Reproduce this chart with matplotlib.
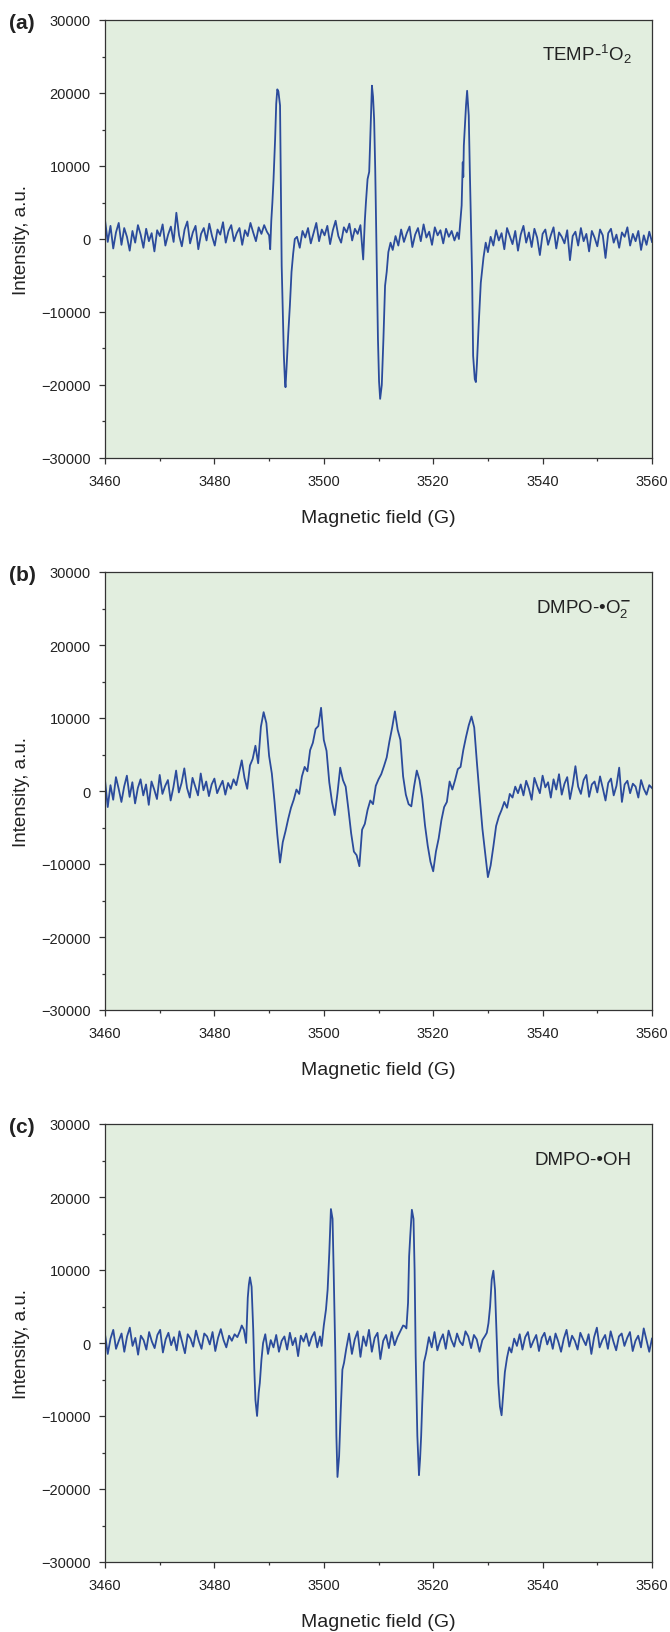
import numpy as np
import matplotlib.pyplot as plt
from matplotlib.ticker import MultipleLocator

plt.rcParams['font.family'] = ['Liberation Sans', 'DejaVu Sans']
plt.rcParams['mathtext.fontset'] = 'custom'
plt.rcParams['mathtext.rm'] = 'Liberation Sans'
plt.rcParams['mathtext.it'] = 'Liberation Sans:italic'

# ---------------- (a) TEMP-1O2 ----------------
a_left = [2600, -400, 1800, -1300, 900, 2200, -800, 1500, 300, -1600,
          1100, -500, 1900, 600, -1200, 1400, -300, 800, -1700, 1200,
          400, 2000, -900, 600, 1700, -400, 3600, 500, -1000, 1300,
          2400, -600, 900, 1800, -1400, 700, 1500, -200, 2100, 400,
          -900, 1300, 600, 2300, -500, 1100, 1900, -300, 800, 1500,
          -800, 1200, 400, 2200, 900, -300, 1600, 700, 1900, 1000]
a_peak1_x = [3490.0, 3490.2, 3490.4, 3490.6, 3490.8, 3491.1, 3491.3, 3491.5, 3491.7, 3492.0, 3492.15,
             3492.3, 3492.5, 3492.7, 3492.9, 3493.0, 3493.2, 3493.5, 3493.8, 3494.1, 3494.4, 3494.7]
a_peak1_y = [500, -1400, 2500, 5000, 8000, 13700, 18500, 20500, 20200, 18300, 8000,
             -3650, -10000, -16000, -19500, -20300, -17500, -13000, -9100, -4500, -2000, 0]
a_mid1 = [300, -1200, 1100, 200, 1500, -600, 800, 2200, -300, 1300,
          500, 1800, -700, 1200, 2500, 400, -500, 1600, 900, 2100,
          -200, 1400, 700, 1900, -2800]
a_peak2_x = [3507.5, 3507.7, 3508.0, 3508.3, 3508.6, 3508.8, 3509.0, 3509.2, 3509.4, 3509.7,
             3509.9, 3510.1, 3510.3, 3510.6, 3510.9, 3511.2, 3511.5, 3511.8, 3512.2]
a_peak2_y = [2500, 5000, 8200, 9200, 16400, 21000, 19500, 16400, 9600, -4600,
             -13700, -19500, -21900, -20000, -13700, -6400, -4500, -1800, -500]
a_mid2 = [-1500, 400, -900, 1300, -400, 800, 1700, -1100, 600, 1500,
          -300, 2000, 200, 1000, -800, 1600, 500, 1200, -600, 1400,
          300, 1100, -200, 900]
a_peak3_x = [3524.7, 3524.9, 3525.2, 3525.4, 3525.5, 3525.6, 3525.8, 3526.0, 3526.2, 3526.5,
             3526.7, 3527.1, 3527.3, 3527.6, 3527.8, 3528.0, 3528.3, 3528.7, 3529.2, 3529.6]
a_peak3_y = [0, 1800, 4600, 10500, 8500, 12800, 15500, 18300, 20300, 16900,
             9200, -4600, -16000, -19200, -19600, -17000, -12000, -6000, -2500, -500]
a_right = [-1800, 300, -900, 1200, -200, 800, -1400, 1500, 400, -700,
           1100, -1600, 600, 1800, -500, 900, -1100, 1400, 200, -2200,
           700, 1300, -800, 500, 1600, -1300, 900, 300, -600, 1200,
           -2900, 400, 1000, -900, 1500, -300, 700, -1700, 1100, 200,
           -1000, 1300, 500, -2600, 800, 1400, -500, 600, -1200, 900,
           300, 1600, -900, 700, -300, 1100, -1500, 500, -800, 1000,
           -400]

# ---------------- (b) DMPO-O2- ----------------
b_left = [1500, -2200, 800, -1200, 1900, 300, -1500, 600, 2100, -800,
          1200, -1700, 400, 1600, -600, 900, -1900, 1300, 200, -1100,
          2200, -400, 700, 1500, -1300, 500, 2800, -200, 1100, 3100,
          400, -900, 1800, 600, -600, 2400, 100, 1300, -700, 900,
          1700, -300, 600, 1400, -500, 1100, 300, 1600]
b_signal = [800, 2500, 4200, 1800, 300, 3500, 4400, 6200, 3800, 8800,
            10800, 9300, 4800, 2400, -1500, -6000, -9800, -7000, -5500, -3800,
            -2300, -1200, 200, -400, 2000, 3300, 2700, 5600, 6600, 8500,
            8900, 11400, 7000, 5500, 1200, -1500, -3300, -300, 3200, 1500,
            600, -2500, -5800, -8300, -8800, -10300, -5300, -4500, -2600, -1300,
            -1800, 700, 1600, 2300, 3400, 4600, 6800, 8700, 10900, 8400,
            7000, 2000, -500, -1800, -2100, 600, 2800, 1500, -1000, -4700,
            -7500, -9700, -11000, -8300, -6500, -4000, -2200, -1500, 1300, 200,
            1500, 3000, 3300, 5600, 7400, 9000, 10200, 8700, 3800, -800,
            -5200, -8500, -11800, -10200, -7600, -4800, -3500, -2600, -1500, -2300,
            -400, -900, 600, -300, 900]
b_right = [-600, 1400, 300, -1200, 1800, 700, -300, 2100, 500, 1200,
           -900, 1600, 200, 2300, -500, 1000, 1900, -1100, 800, 3400,
           600, -400, 1500, 2200, -800, 900, 1300, -200, 2000, 400,
           -1300, 1100, 1700, -600, 700, 3200, -1500, 900, 1400, -300,
           1000, 600, -900, 1500, 300, -500, 800, 400]

# ---------------- (c) DMPO-OH ----------------
c_left = [1200, -1500, 600, 1800, -800, 300, 1300, -1200, 900, 2100,
          -400, 700, -1600, 1000, 400, -900, 1500, 200, -700, 1100,
          1800, -1300, 500, 1400, -300, 800, -1000, 1600, 100, -1400,
          1200, 600, -500, 1700, 300, -800, 1300, 900, -200, 1500,
          -1100, 700, 1900, 400, -600, 1000, 300, 1200, 800, 1700]
c_peak1_x = [3485.0, 3485.4, 3485.8, 3486.1, 3486.3, 3486.5, 3486.8, 3487.1, 3487.3, 3487.5,
             3487.8, 3488.1, 3488.3, 3488.6, 3488.9]
c_peak1_y = [2400, 1800, 0, 6200, 8000, 9000, 7700, 1800, -3650, -7800,
             -10000, -6800, -5500, -2300, 0]
c_mid1 = [1200, -1500, 400, -600, 1100, -1200, 300, 900, -900, 1400,
          -300, 700, -1800, 1000, 200, 1300, -400, 800, 1500, -600, 900]
c_peak2_x = [3499.6, 3500.0, 3500.4, 3500.7, 3501.0, 3501.3, 3501.6, 3501.8, 3502.1, 3502.3,
             3502.5, 3502.8, 3503.1, 3503.4, 3503.7]
c_peak2_y = [-400, 2400, 4600, 7300, 12300, 18350, 17000, 10000, -1400, -12700,
             -18350, -15500, -9100, -3650, -2700]
c_mid2 = [-800, 1300, -1500, 500, 1600, -1900, 900, -400, 1800, -1200,
          700, 1400, -2200, 300, 1100, -700, 1500, -300, 800, 1600, 2400]
c_peak3_x = [3514.8, 3515.1, 3515.4, 3515.6, 3515.8, 3516.1, 3516.4, 3516.6, 3516.8, 3517.1,
             3517.4, 3517.6, 3517.8, 3518.0, 3518.3]
c_peak3_y = [2300, 2000, 5500, 11900, 14600, 18250, 17000, 10000, -1800, -12700,
             -18100, -15900, -12700, -8200, -2700]
c_mid3 = [-1400, 800, -600, 1500, -1000, 300, 1200, -800, 1700, 400,
          -500, 1300, 200, -300, 1600, 900, -700, 1100, 500, -1200, 400, 1000]
c_peak4_x = [3529.8, 3530.1, 3530.4, 3530.7, 3531.0, 3531.3, 3531.6, 3531.9, 3532.2, 3532.5,
             3532.8, 3533.1, 3533.5, 3533.9]
c_peak4_y = [1400, 2700, 5000, 8700, 9900, 7300, 900, -5500, -8700, -9900,
             -7000, -4000, -2000, -600]
c_right = [-1300, 600, -400, 1200, -900, 800, 1500, -600, 300, 1100,
           -1100, 700, 1400, -200, 900, -800, 1300, 200, -1200, 600,
           1800, -500, 1000, 300, -900, 1400, 500, -300, 1200, -1500,
           800, 2100, -600, 400, 1100, -800, 1600, 200, -1000, 900,
           1300, -400, 700, 1500, -1100, 300, 1000, -600, 2000, 400,
           -1200, 600]


def baseline(start, end, vals):
    # evenly sampled stretch of spectrum between start and end (G)
    return list(np.linspace(start, end, len(vals))), list(vals)


def join(*parts):
    xs, ys = [], []
    for px, py in parts:
        xs += list(px)
        ys += list(py)
    return np.array(xs), np.array(ys)


spec_a = join(baseline(3460, 3489.6, a_left), (a_peak1_x, a_peak1_y),
              baseline(3495.1, 3507.2, a_mid1), (a_peak2_x, a_peak2_y),
              baseline(3512.6, 3524.4, a_mid2), (a_peak3_x, a_peak3_y),
              baseline(3530.0, 3560, a_right))
spec_b = join(baseline(3460, 3483.5, b_left), baseline(3484, 3536, b_signal),
              baseline(3536.5, 3560, b_right))
spec_c = join(baseline(3460, 3484.7, c_left), (c_peak1_x, c_peak1_y),
              baseline(3489.3, 3499.3, c_mid1), (c_peak2_x, c_peak2_y),
              baseline(3504.1, 3514.5, c_mid2), (c_peak3_x, c_peak3_y),
              baseline(3518.7, 3529.5, c_mid3), (c_peak4_x, c_peak4_y),
              baseline(3534.3, 3560, c_right))

spectra = [spec_a, spec_b, spec_c]
panel_tags = ['(a)', '(b)', '(c)']
species = [r'TEMP-$^{1}$O$_{2}$', r'DMPO-•O$_{2}^{\mathbf{-}}$', 'DMPO-•OH']

W, H = 670, 1633
fig = plt.figure(figsize=(W / 100, H / 100), dpi=100)
tops = [21, 573, 1125]
ax_h = 438
left, right = 105, 652

for k in range(3):
    top = tops[k]
    ax = fig.add_axes([left / W, 1 - (top + ax_h) / H, (right - left) / W, ax_h / H])
    ax.set_facecolor('#e2eedf')
    x, y = spectra[k]
    ax.plot(x, y, color='#2b4b9c', lw=1.3)
    ax.set_xlim(3460, 3560)
    ax.set_ylim(-30000, 30000)
    ax.xaxis.set_major_locator(MultipleLocator(20))
    ax.xaxis.set_minor_locator(MultipleLocator(10))
    ax.yaxis.set_major_locator(MultipleLocator(10000))
    ax.yaxis.set_minor_locator(MultipleLocator(5000))
    ax.tick_params(which='both', direction='out', color='#333333', labelsize=10.5,
                   labelcolor='#222222', width=0.9)
    ax.tick_params(which='major', length=4.3)
    ax.tick_params(which='minor', length=2.3)
    ax.tick_params(axis='x', which='major', pad=7)
    ax.tick_params(axis='y', which='major', pad=6)
    for s in ax.spines.values():
        s.set_color('#333333')
        s.set_linewidth(0.9)
    ax.set_xlabel('Magnetic field (G)', fontsize=14, labelpad=15, color='#222222')
    ax.set_ylabel('Intensity, a.u.', fontsize=13.5, labelpad=8, color='#222222')
    ax.text(0.962, 0.909, species[k], transform=ax.transAxes, ha='right', va='baseline',
            fontsize=13.5, color='#222222')
    fig.text(9 / W, 1 - (top + 8) / H, panel_tags[k], ha='left', va='baseline',
             fontsize=15, fontweight='bold', color='#222222')

fig.savefig('out.png', dpi=100)
